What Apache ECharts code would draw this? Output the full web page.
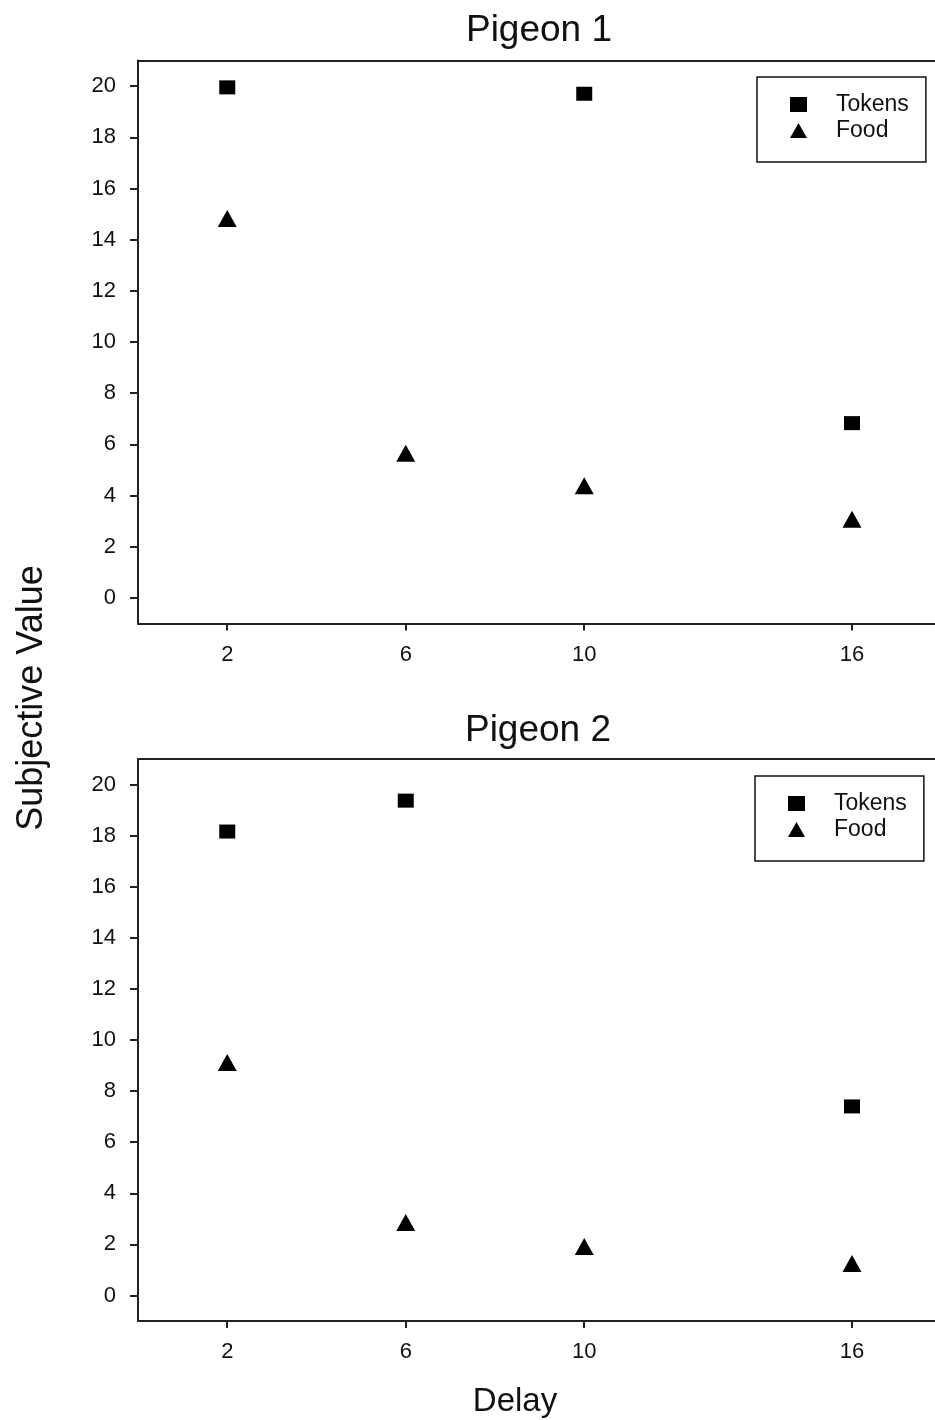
<!DOCTYPE html>
<html><head><meta charset="utf-8">
<script src="https://cdn.jsdelivr.net/npm/echarts@6/dist/echarts.min.js"></script>
<style>html,body{margin:0;padding:0;background:#fff}#c{width:935px;height:1420px}</style>
</head><body><div id="c"></div>
<script>
// ---- data ----
const xTickValues = [2, 6, 10, 16];
const yTickValues = [0, 2, 4, 6, 8, 10, 12, 14, 16, 18, 20];
const seriesNames = ['Tokens', 'Food'];
const panelTitles = ['Pigeon 1', 'Pigeon 2'];
const xAxisTitle = 'Delay';
const yAxisTitle = 'Subjective Value';

const p1TokenDelays = [2, 10, 16];
const p1TokenValues = [19.95, 19.7, 6.83];
const p1FoodDelays = [2, 6, 10, 16];
const p1FoodValues = [14.83, 5.65, 4.38, 3.07];

const p2TokenDelays = [2, 6, 16];
const p2TokenValues = [18.16, 19.37, 7.4];
const p2FoodDelays = [2, 6, 10, 16];
const p2FoodValues = [9.12, 2.86, 1.92, 1.25];

const pairs = (xs, ys) => xs.map((x, i) => [x, ys[i]]);
const FONT = '"Liberation Sans", Arial, sans-serif';
const INK = '#111';
const LINE = '#222';
const X_MIN = 0, X_MAX = 17.86; // plot frame runs past the right edge of the picture

const chart = echarts.init(document.getElementById('c'), null, {renderer: 'canvas'});

const grids = [
  {left: 138, top: 60.5, right: 0, height: 563, show: false},
  {left: 138, top: 759, right: 0, height: 562, show: false}
];

const mkX = (gi) => ({
  type: 'value', gridIndex: gi, min: X_MIN, max: X_MAX, position: 'bottom',
  axisLine: {show: true, onZero: false, lineStyle: {color: LINE, width: 2}},
  axisTick: {show: true, inside: false, length: 7, customValues: xTickValues, lineStyle: {color: LINE, width: 2}},
  axisLabel: {show: true, margin: 20, customValues: xTickValues, color: INK, fontSize: 22, fontFamily: FONT},
  splitLine: {show: false}
});
const mkTop = (gi) => ({
  type: 'value', gridIndex: gi, min: X_MIN, max: X_MAX, position: 'top',
  axisLine: {show: true, onZero: false, lineStyle: {color: LINE, width: 2}},
  axisTick: {show: false}, axisLabel: {show: false}, splitLine: {show: false}
});
const mkY = (gi) => ({
  type: 'value', gridIndex: gi, min: -1, max: 21,
  axisLine: {show: true, onZero: false, lineStyle: {color: LINE, width: 2}},
  axisTick: {show: true, inside: false, length: 8, customValues: yTickValues, lineStyle: {color: LINE, width: 2}},
  axisLabel: {show: true, margin: 22, customValues: yTickValues, color: INK, fontSize: 22, fontFamily: FONT},
  splitLine: {show: false}
});

const mkLegend = (left, top) => ({
  orient: 'vertical', left: left, top: top,
  data: [{name: seriesNames[0], icon: 'rect'}, {name: seriesNames[1], icon: 'triangle'}],
  itemWidth: 17, itemHeight: 15, itemGap: 3, itemStyle: {color: '#000', opacity: 1},
  padding: [16, 17, 20, 33],
  borderColor: '#111', borderWidth: 1.5, backgroundColor: '#fff',
  textStyle: {fontSize: 23, color: INK, fontFamily: FONT, padding: [0, 0, 0, 24]},
  selectedMode: false
});

const sq = (gi, data) => ({
  name: seriesNames[0], type: 'scatter', xAxisIndex: gi, yAxisIndex: gi,
  symbol: 'rect', symbolSize: [16, 14], itemStyle: {color: '#000', opacity: 1}, data: data, z: 3
});
const tri = (gi, data) => ({
  name: seriesNames[1], type: 'scatter', xAxisIndex: gi, yAxisIndex: gi,
  symbol: 'triangle', symbolSize: [19, 17], itemStyle: {color: '#000', opacity: 1}, data: data, z: 3
});

chart.setOption({
  backgroundColor: '#fff',
  animation: false,
  grid: grids,
  xAxis: [mkX(0), mkX(1), mkTop(0), mkTop(1)],
  yAxis: [mkY(0), mkY(1)],
  legend: [mkLegend(757, 77), mkLegend(755, 776)],
  series: [
    sq(0, pairs(p1TokenDelays, p1TokenValues)),
    tri(0, pairs(p1FoodDelays, p1FoodValues)),
    sq(1, pairs(p2TokenDelays, p2TokenValues)),
    tri(1, pairs(p2FoodDelays, p2FoodValues))
  ],
  graphic: [
    {type: 'text', x: 539, y: 31, style: {text: panelTitles[0], textAlign: 'center', textVerticalAlign: 'middle', font: '37px ' + FONT, fill: INK}},
    {type: 'text', x: 538, y: 731, style: {text: panelTitles[1], textAlign: 'center', textVerticalAlign: 'middle', font: '37px ' + FONT, fill: INK}},
    {type: 'text', x: 515, y: 1402, style: {text: xAxisTitle, textAlign: 'center', textVerticalAlign: 'middle', font: '33px ' + FONT, fill: INK}},
    {type: 'text', x: 32, y: 698, rotation: Math.PI / 2, style: {text: yAxisTitle, textAlign: 'center', textVerticalAlign: 'middle', font: '36px ' + FONT, fill: INK}}
  ]
});
</script>
</body></html>
